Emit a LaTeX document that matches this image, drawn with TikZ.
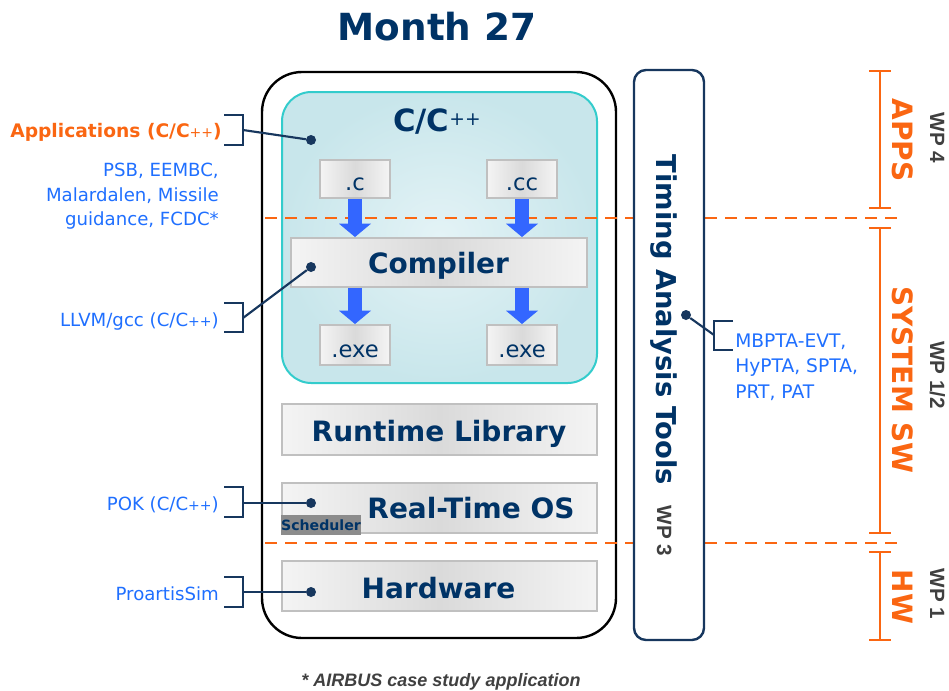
\documentclass[tikz,border=0pt]{standalone}
\usepackage{fontspec}
\setmainfont{DejaVu Sans}
\newfontfamily\arialfont{Liberation Sans}
\usetikzlibrary{arrows.meta}
\definecolor{dblue}{RGB}{0,51,102}
\definecolor{brblue}{RGB}{23,55,94}
\definecolor{lblue}{RGB}{31,111,255}
\definecolor{oran}{RGB}{250,102,18}
\definecolor{arrblue}{RGB}{51,102,255}
\definecolor{boxlight}{RGB}{244,244,244}
\definecolor{boxmid}{RGB}{218,218,218}
\definecolor{boxedge}{RGB}{192,192,192}
\definecolor{tealin}{RGB}{228,243,246}
\definecolor{tealout}{RGB}{200,230,235}
\definecolor{tealline}{RGB}{51,204,204}
\definecolor{wpgray}{RGB}{64,64,64}
\definecolor{schedgray}{RGB}{140,140,140}
\newcommand\fsz[2]{\fontsize{#1}{#2}\selectfont}
\begin{document}
\begin{tikzpicture}[x=0.75pt,y=-0.75pt,
  graybox/.style={draw=boxedge,line width=1.5pt,left color=boxlight,right color=boxlight,middle color=boxmid,inner sep=0pt},
  boxtitle/.style={text=dblue,font=\bfseries\fsz{21}{25},anchor=base,inner sep=0pt},
  filetxt/.style={text=dblue,font=\fsz{17}{20},anchor=base,inner sep=0pt},
  bigarrow/.style={draw=arrblue,line width=10.5pt,-{Triangle[width=24pt,length=10pt,line width=0pt]}},
  dot/.style={circle,fill=brblue,inner sep=0pt,minimum size=7.5pt},
  bracket/.style={draw=brblue,line width=2.2pt},
  conn/.style={draw=brblue,line width=1.6pt},
  bluetxt/.style={text=lblue,font=\fsz{13.6}{18.4},inner sep=0pt},
  sepline/.style={draw=oran,line width=2.2pt,dash pattern=on 9pt off 6pt},
  obracket/.style={draw=oran,line width=2.2pt},
  otxt/.style={text=oran,font=\bfseries\fsz{21}{24},rotate=-90,anchor=base,inner sep=0pt},
  wptxt/.style={text=wpgray,font=\arialfont\bfseries\fsz{15.5}{18},rotate=-90,anchor=base,inner sep=0pt}
]
\useasboundingbox (0,0) rectangle (949,690);

% title
\node[text=dblue,font=\bfseries\fsz{28}{32},anchor=base,inner sep=0pt] (title) at (437,40) {Month 27};

% outer frame
\node[draw=black,line width=1.8pt,rounded corners=30pt,minimum width=265.5pt,minimum height=424.5pt,inner sep=0pt] (outer) at (439,355) {};

% C/C++ box
\node[draw=tealline,line width=1.5pt,rounded corners=22pt,inner color=tealin,outer color=tealout,minimum width=236.25pt,minimum height=218.25pt,inner sep=0pt] (cppbox) at (439.5,237.5) {};
\node[text=dblue,font=\bfseries\fsz{23}{26},anchor=base,inner sep=0pt] (cpptitle) at (437,131) {C/C\raisebox{4pt}{\mdseries\fsz{14}{14}++}};

% file boxes
\node[graybox,minimum width=52.5pt,minimum height=28.5pt] (cfile) at (355,179) {};
\node[filetxt] (ctxt) at (355,190) {.c};
\node[graybox,minimum width=52.5pt,minimum height=28.5pt] (ccfile) at (522,179) {};
\node[filetxt] (cctxt) at (522,190) {.cc};
\node[graybox,minimum width=222pt,minimum height=36.75pt] (comp) at (439,262.5) {};
\node[boxtitle] (comptxt) at (438.5,273) {Compiler};
\node[graybox,minimum width=52.5pt,minimum height=30pt] (exea) at (355,345) {};
\node[filetxt] (exeatxt) at (355,357) {.exe};
\node[graybox,minimum width=52.5pt,minimum height=30pt] (exeb) at (522,345) {};
\node[filetxt] (exebtxt) at (522,357) {.exe};

% layers
\node[graybox,minimum width=236.25pt,minimum height=38.25pt] (rtl) at (439.5,429.5) {};
\node[boxtitle] (rtltxt) at (439,441) {Runtime Library};
\node[graybox,minimum width=236.25pt,minimum height=37.5pt] (rtos) at (439.5,508) {};
\node[boxtitle] (rtostxt) at (471,518) {Real-Time OS};
\node[fill=schedgray,inner sep=0pt,minimum width=58.5pt,minimum height=15pt,text=dblue,font=\bfseries\fsz{10.6}{12}] (sched) at (321,525) {Scheduler};
\node[graybox,minimum width=236.25pt,minimum height=37.5pt] (hw) at (439.5,586) {};
\node[boxtitle] (hwtxt) at (438.5,598) {Hardware};

% separators
\draw[sepline] (265,218) -- (900,218);
\draw[sepline] (265,543) -- (900,543);

% compile arrows
\draw[bigarrow] (cfile) -- (cfile |- comp.north);
\draw[bigarrow] (ccfile) -- (ccfile |- comp.north);
\draw[bigarrow] (comp.south -| exea) -- (exea.north);
\draw[bigarrow] (comp.south -| exeb) -- (exeb.north);

% timing analysis tools
\node[draw=brblue,line width=1.8pt,fill=white,rounded corners=9pt,minimum width=52.5pt,minimum height=427.5pt,inner sep=0pt] (timing) at (669,355) {};
\node[text=dblue,font=\bfseries\fsz{20.5}{24},rotate=-90,anchor=base,inner sep=0pt] (timtxt) at (656,320) {Timing Analysis Tools};
\node[wptxt] (wp3) at (657,531) {WP 3};

% dots
\node[dot] (dapp) at (311,140) {};
\node[dot] (dcomp) at (311,267) {};
\node[dot] (drtos) at (311,503) {};
\node[dot] (dhw) at (311,592) {};
\node[dot] (dtim) at (686,315) {};

% left labels
\node[text=oran,font=\bfseries\fsz{14}{16},anchor=base east,inner sep=0pt] (appl) at (222,137) {Applications (C/C{\mdseries\fsz{10.5}{12}++})};
\node[bluetxt,align=right,anchor=north east] (bench) at (219,163) {PSB, EEMBC,\\Malardalen, Missile\\guidance, FCDC*};
\node[bluetxt,anchor=base east] (llvm) at (219,326) {LLVM/gcc (C/C{\fsz{10.5}{12}++})};
\node[bluetxt,anchor=base east] (pok) at (219,510) {POK (C/C{\fsz{10.5}{12}++})};
\node[bluetxt,anchor=base east] (proartis) at (219,600) {ProartisSim};

% left brackets and connectors
\draw[bracket] (224,115) -- (243,115) -- (243,145) -- (224,145);
\coordinate (bapp) at (243,130);
\draw[conn] (bapp) -- (dapp);
\draw[bracket] (224,303) -- (243,303) -- (243,332) -- (224,332);
\coordinate (bllvm) at (243,318);
\draw[conn] (bllvm) -- (dcomp);
\draw[bracket] (224,487) -- (243,487) -- (243,517) -- (224,517);
\coordinate (bpok) at (243,503);
\draw[conn] (bpok) -- (drtos);
\draw[bracket] (224,577) -- (243,577) -- (243,607) -- (224,607);
\coordinate (bpro) at (243,592);
\draw[conn] (bpro) -- (dhw);

% timing bracket
\draw[bracket] (733,321) -- (714,321) -- (714,350) -- (733,350);
\coordinate (btim) at (714,335);
\draw[conn] (btim) -- (dtim);
\node[bluetxt,font=\fsz{14}{18.8},align=left,anchor=north west] (mbpta) at (735,334) {MBPTA-EVT,\\HyPTA, SPTA,\\PRT, PAT};

% right orange brackets
\draw[obracket] (869,71) -- (891,71) (880,71) -- (880,208) (869,208) -- (891,208);
\draw[obracket] (869,228) -- (891,228) (880,228) -- (880,533) (869,533) -- (891,533);
\draw[obracket] (869,552) -- (891,552) (880,552) -- (880,640) (869,640) -- (891,640);
\node[otxt] (apps) at (892,140) {APPS};
\node[otxt] (syssw) at (892,380) {SYSTEM SW};
\node[otxt] (hwlab) at (892,597) {HW};
\node[wptxt] (wp4) at (930,138) {WP 4};
\node[wptxt] (wp12) at (930,375) {WP 1/2};
\node[wptxt] (wp1) at (930,594) {WP 1};

% footnote
\node[text=wpgray,font=\arialfont\bfseries\itshape\fsz{13.5}{16},anchor=base,inner sep=0pt] (foot) at (441,686) {* AIRBUS case study application};
\end{tikzpicture}
\end{document}
